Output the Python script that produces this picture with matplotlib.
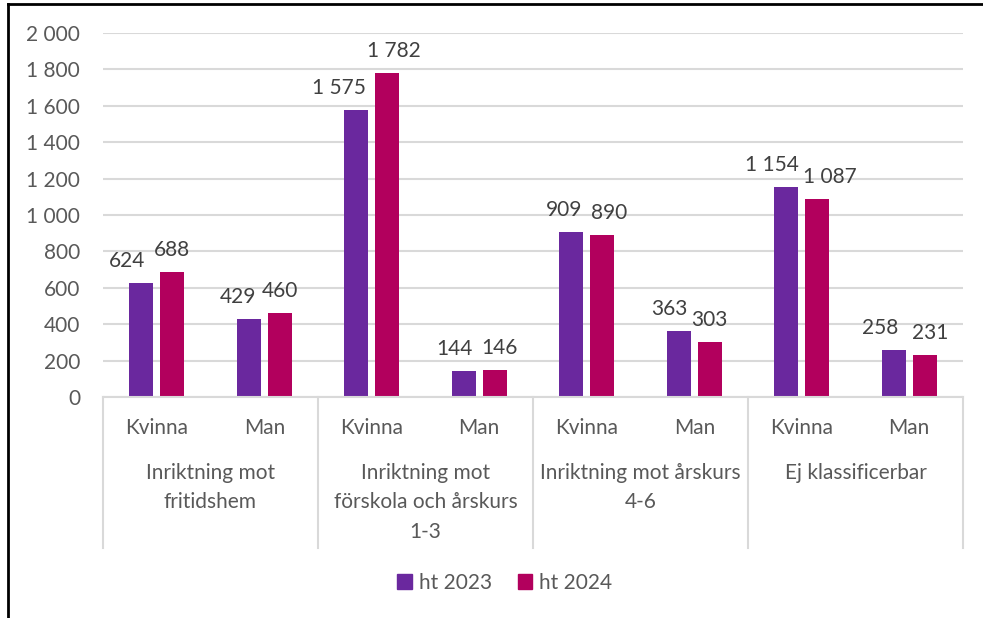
import matplotlib.pyplot as plt
import numpy as np
from matplotlib.patches import Patch
from matplotlib.lines import Line2D

# Data
groups = ['Inriktning mot\nfritidshem',
          'Inriktning mot\nförskola och årskurs\n1-3',
          'Inriktning mot årskurs\n4-6',
          'Ej klassificerbar']
sexes = ['Kvinna', 'Man']
ht_2023 = [624, 429, 1575, 144, 909, 363, 1154, 258]
ht_2024 = [688, 460, 1782, 146, 890, 303, 1087, 231]
series_names = ['ht 2023', 'ht 2024']
yticks = [0, 200, 400, 600, 800, 1000, 1200, 1400, 1600, 1800, 2000]

# label nudges (px) so neighbouring labels don't collide, as in the original
nudge_2023 = [-14, -11, -18, -10, -7.5, -10, -15, -13.5]
nudge_2024 = [0, 0, 7, 5, 7.5, 0, 12.5, 5.5]

c23 = '#6A289E'
c24 = '#B2005D'
grey_text = '#595959'
grid_col = '#D9D9D9'
FS = 15

plt.rcParams['font.family'] = ['Lato', 'DejaVu Sans']

def fmt(v):
    return f'{v:,}'.replace(',', ' ')

fig = plt.figure(figsize=(9.83, 6.18), dpi=100)
ax = fig.add_axes([103 / 983, 1 - 397 / 618, 860 / 983, 364 / 618])

x = np.arange(len(ht_2023))
w = 0.223
off = 0.142
b1 = ax.bar(x - off, ht_2023, w, color=c23, zorder=3)
b2 = ax.bar(x + off, ht_2024, w, color=c24, zorder=3)

px = 72 / 100
for bars, vals, nudges in ((b1, ht_2023, nudge_2023), (b2, ht_2024, nudge_2024)):
    for rect, v, n in zip(bars, vals, nudges):
        ax.annotate(fmt(v), (rect.get_x() + rect.get_width() / 2, v),
                    xytext=(n * px, 16 * px), textcoords='offset points',
                    ha='center', va='baseline', fontsize=FS, color='#404040')

ax.set_xlim(-0.5, len(x) - 0.5)
ax.set_ylim(0, 2000)
ax.set_yticks(yticks)
ax.set_yticklabels([fmt(t) for t in yticks], fontsize=FS, color=grey_text)
ax.tick_params(axis='y', length=0, pad=16.5)
ax.set_xticks([])
ax.yaxis.grid(True, color=grid_col, linewidth=1.5, zorder=0)
for s in ax.spines.values():
    s.set_visible(False)

# category axis
trans = ax.get_xaxis_transform()
ax.plot([-0.5, len(x) - 0.5], [0, 0], color=grid_col, lw=1.5,
        transform=trans, clip_on=False, zorder=4)
for k in range(len(groups) + 1):
    xs = -0.5 + 2 * k
    ax.plot([xs, xs], [0, -151 / 364], color=grid_col, lw=1.5,
            transform=trans, clip_on=False)
for i in x:
    ax.text(i, -31 / 364, sexes[i % 2], transform=trans, ha='center',
            va='center', fontsize=FS, color=grey_text)
for g, name in enumerate(groups):
    ax.text(2 * g + 0.5, -66 / 364, name, transform=trans, ha='center',
            va='top', fontsize=FS, color=grey_text, linespacing=1.58)

handles = [Patch(color=c23), Patch(color=c24)]
fig.legend(handles, series_names, loc='center', bbox_to_anchor=(505 / 983, 1 - 583 / 618),
           ncol=2, frameon=False, fontsize=FS, handlelength=0.7, handleheight=0.7,
           handletextpad=0.35, columnspacing=1.2, labelcolor=grey_text)

# outer border (cropped)
fig.add_artist(Line2D([8 / 983, 8 / 983], [0, 1 - 4 / 618], color='black', lw=2,
                      transform=fig.transFigure))
fig.add_artist(Line2D([8 / 983, 1], [1 - 4 / 618, 1 - 4 / 618], color='black', lw=2,
                      transform=fig.transFigure))

fig.savefig('out.png', dpi=100)
